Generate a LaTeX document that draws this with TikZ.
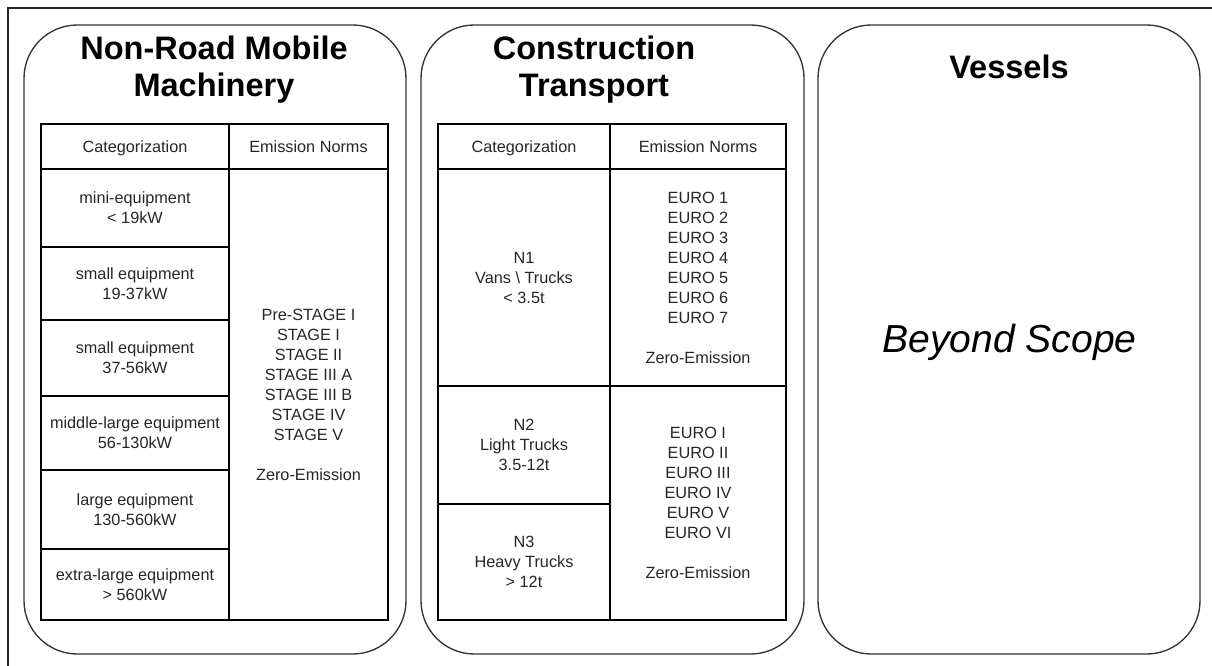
\documentclass[tikz,border=0pt]{standalone}
\usepackage{fontspec}
\setmainfont{Liberation Sans}
\begin{document}
\begin{tikzpicture}[x=0.75pt,y=-0.75pt,
  frameline/.style={draw=black!85, line width=1pt},
  panel/.style={draw=black!80, line width=1pt, rounded corners=40pt, inner sep=0pt},
  cell/.style={draw=black, line width=1.1pt, inner sep=0pt, align=center,
    font=\fontsize{12.2}{15}\selectfont, text=black!85},
  headcell/.style={cell, text height=11pt, text depth=2.6pt},
  title/.style={font=\fontsize{24.4}{27.4}\selectfont\bfseries, align=center, inner sep=0pt},
  remark/.style={font=\fontsize{29.3}{34}\selectfont\itshape, inner sep=0pt}
]
% a table cell spanning the corners (x1,y1) and (x2,y2)
\newcommand\tcell[7][cell]{%
  \node[#1, minimum width={(#5-#3)*0.75pt}, minimum height={(#6-#4)*0.75pt}]
    (#2) at ({(#3+#5)/2},{(#4+#6)/2}) {#7};}
% a rounded panel spanning the corners (x1,y1) and (x2,y2)
\newcommand\tpanel[5]{%
  \node[panel, minimum width={(#4-#2)*0.75pt}, minimum height={(#5-#3)*0.75pt}]
    (#1) at ({(#2+#4)/2},{(#3+#5)/2}) {};}

\useasboundingbox (0,0) rectangle (1212,666);

% outer frame
\coordinate (fbl) at (8,666);
\coordinate (ftl) at (8,8);
\coordinate (ftr) at (1212,8);
\draw[frameline] (fbl) -- (ftl) -- (ftr);

% three rounded panels
\tpanel{nrmm}{24}{25}{406}{654}
\tpanel{ct}{421}{25}{804}{654}
\tpanel{ves}{818}{25}{1200}{654}

% titles
\node[title, anchor=north] (nrmmtitle) at (214,36) {Non-Road Mobile\\Machinery};
\node[title, anchor=north] (cttitle) at (594,36) {Construction\\Transport};
\node[title, anchor=north] (vestitle) at (1009,55) {Vessels};

% Non-Road Mobile Machinery table
\tcell[headcell]{nh1}{41}{124}{229}{169}{Categorization}
\tcell[headcell]{nh2}{229}{124}{388}{169}{Emission Norms}
\tcell{nr1}{41}{169}{229}{247}{mini-equipment\\< 19kW}
\tcell{nr2}{41}{247}{229}{320}{small equipment\\19-37kW}
\tcell{nr3}{41}{320}{229}{396}{small equipment\\37-56kW}
\tcell{nr4}{41}{396}{229}{470}{middle-large equipment\\56-130kW}
\tcell{nr5}{41}{470}{229}{549}{large equipment\\130-560kW}
\tcell{nr6}{41}{549}{229}{620}{extra-large equipment\\> 560kW}
\tcell{nnorm}{229}{169}{388}{620}{Pre-STAGE I\\STAGE I\\STAGE II\\STAGE III A\\STAGE III B\\STAGE IV\\STAGE V\\[15pt]Zero-Emission}

% Construction Transport table
\tcell[headcell]{ch1}{438}{124}{610}{169}{Categorization}
\tcell[headcell]{ch2}{610}{124}{786}{169}{Emission Norms}
\tcell{cn1}{438}{169}{610}{386}{N1\\Vans \textbackslash{} Trucks\\< 3.5t}
\tcell{cn2}{438}{386}{610}{504}{N2\\Light Trucks\\3.5-12t}
\tcell{cn3}{438}{504}{610}{620}{N3\\Heavy Trucks\\> 12t}
\tcell{cnorm1}{610}{169}{786}{386}{EURO 1\\EURO 2\\EURO 3\\EURO 4\\EURO 5\\EURO 6\\EURO 7\\[15pt]Zero-Emission}
\tcell{cnorm2}{610}{386}{786}{620}{EURO I\\EURO II\\EURO III\\EURO IV\\EURO V\\EURO VI\\[15pt]Zero-Emission}

% Vessels
\node[remark, anchor=base] (scope) at (1009.5,352) {Beyond Scope};
\end{tikzpicture}
\end{document}
